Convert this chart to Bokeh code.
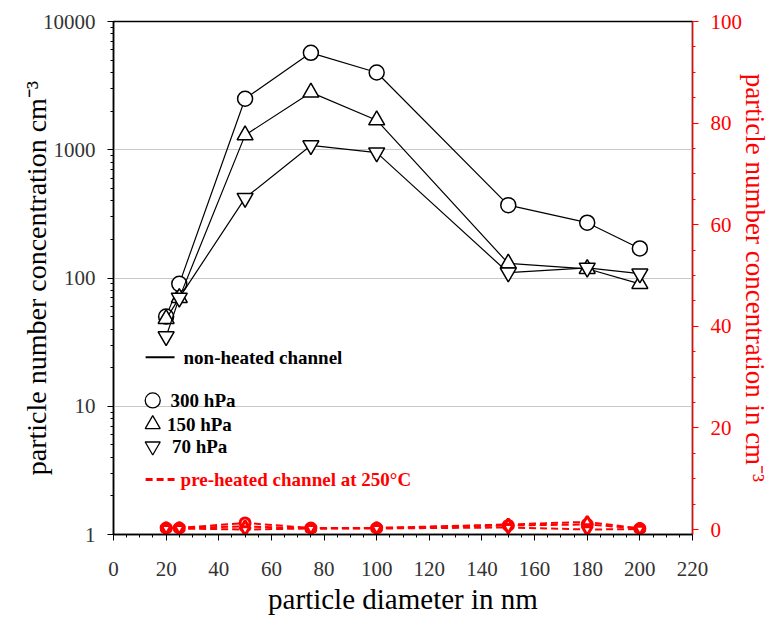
from bokeh.plotting import figure
from bokeh.models import (Range1d, LinearAxis, LinearScale, FixedTicker, SingleIntervalTicker,
                          NumeralTickFormatter, Label)
from bokeh.embed import file_html
from bokeh.resources import INLINE

# ---------------- data ----------------
diameter = [20, 25, 50, 75, 100, 150, 180, 200]

# non-heated channel (left, log axis)
nh_300 = [50, 90, 2500, 5700, 4000, 370, 270, 170]
nh_150 = [48, 70, 1300, 2800, 1700, 130, 118, 90]
nh_70 = [35, 70, 420, 1080, 950, 110, 120, 108]

# pre-heated channel at 250°C (right, linear axis)
ph_300 = [0.3, 0.3, 1.3, 0.3, 0.3, 0.8, 1.0, 0.2]
ph_150 = [0.3, 0.3, 0.6, 0.2, 0.3, 1.0, 1.5, 0.2]
ph_70 = [0.2, 0.2, 0.0, 0.2, 0.2, 0.4, 0.0, 0.1]

log_ticks = [1, 10, 100, 1000, 10000]

FONT = "Liberation Serif"
RED = "#ff0000"

p = figure(width=774, height=621, y_axis_type="log",
           x_range=Range1d(0, 220), y_range=Range1d(1, 10000),
           output_backend="svg", toolbar_location=None,
           min_border_left=113, min_border_right=82,
           min_border_top=21, min_border_bottom=87)
p.outline_line_color = "black"
p.outline_line_width = 1.5
p.background_fill_color = "white"
p.border_fill_color = "white"
p.xgrid.visible = False
p.ygrid.ticker = FixedTicker(ticks=[10, 100, 1000])
p.ygrid.grid_line_color = "#c8c8c8"
p.ygrid.grid_line_width = 1

p.extra_y_ranges = {"right": Range1d(-0.98, 100)}
p.extra_y_scales = {"right": LinearScale()}

# x axis
xa = p.xaxis[0]
xa.ticker = SingleIntervalTicker(interval=20, num_minor_ticks=4)
xa.axis_label = "particle diameter in nm"

# left y axis
ya = p.yaxis[0]
minor = [m * d for d in [1, 10, 100, 1000] for m in range(2, 10)]
ya.ticker = FixedTicker(ticks=log_ticks, minor_ticks=minor)
ya.formatter = NumeralTickFormatter(format="0")
ya.axis_label = "particle number concentration cm⁻³"

for ax in (xa, ya):
    ax.axis_line_color = "black"
    ax.axis_line_width = 1.5
    ax.major_tick_line_color = "black"
    ax.minor_tick_line_color = "black"
    ax.major_tick_in = 0
    ax.major_tick_out = 6
    ax.minor_tick_in = 0
    ax.minor_tick_out = 3
    ax.major_label_text_font = FONT
    ax.major_label_text_font_size = "21px"
    ax.major_label_text_color = "#333333"
    ax.axis_label_text_font = FONT
    ax.axis_label_text_font_style = "normal"
    ax.axis_label_text_color = "black"
xa.axis_label_text_font_size = "29px"
ya.axis_label_text_font_size = "28px"
xa.major_label_standoff = 21
ya.major_label_standoff = 12
xa.axis_label_standoff = 4
ya.axis_label_standoff = -12

# right axis
ra = LinearAxis(y_range_name="right",
                ticker=SingleIntervalTicker(interval=20, num_minor_ticks=4),
                axis_label="particle number concentration in cm⁻³")
ra.axis_line_color = RED
ra.axis_line_width = 1.2
ra.major_tick_line_color = RED
ra.minor_tick_line_color = RED
ra.major_tick_in = 0
ra.major_tick_out = 6
ra.minor_tick_in = 0
ra.minor_tick_out = 3
ra.major_label_text_font = FONT
ra.major_label_text_font_size = "21px"
ra.major_label_text_color = RED
ra.major_label_standoff = 12
ra.axis_label_text_font = FONT
ra.axis_label_text_font_size = "27px"
ra.axis_label_text_font_style = "normal"
ra.axis_label_text_color = RED
ra.axis_label_standoff = -5
p.add_layout(ra, "right")

# non-heated series
series = [(nh_300, "circle", 15), (nh_150, "triangle", 16), (nh_70, "inverted_triangle", 16)]
for vals, mk, sz in series:
    p.line(diameter, vals, line_color="black", line_width=1.2)
    p.scatter(diameter, vals, marker=mk, size=sz, fill_color="white",
              line_color="black", line_width=1.5)

# pre-heated series (right axis)
red_series = [(ph_300, "circle"), (ph_150, "triangle"), (ph_70, "inverted_triangle")]
for vals, mk in red_series:
    p.line(diameter, vals, line_color=RED, line_width=2, line_dash="7 4",
           y_range_name="right")
    p.scatter(diameter, vals, marker=mk, size=10, fill_color="white",
              line_color=RED, line_width=3, y_range_name="right")

# ---------------- in-plot legend ----------------
LEG_TXT = "19px"
p.line([12.2, 23.2], [24.1, 24.1], line_color="black", line_width=2)
p.add_layout(Label(x=26.6, y=24.1, text="non-heated channel", text_font=FONT,
                   text_font_size=LEG_TXT, text_font_style="bold",
                   text_baseline="middle", text_color="black"))
leg_rows = [("circle", 11.1, "300 hPa", 21.7),
            ("triangle", 7.23, "150 hPa", 20.3),
            ("inverted_triangle", 4.87, "70 hPa", 22.2)]
for mk, yy, txt, tx in leg_rows:
    p.scatter([14.9], [yy], marker=mk, size=15, fill_color="white",
              line_color="black", line_width=1.3)
    p.add_layout(Label(x=tx, y=yy, text=txt, text_font=FONT,
                       text_font_size=LEG_TXT, text_font_style="bold",
                       text_baseline="middle", text_color="black"))
p.line([12.2, 23.2], [2.69, 2.69], line_color=RED, line_width=3, line_dash="7 4")
p.add_layout(Label(x=25.5, y=2.69, text="pre-heated channel at 250°C", text_font=FONT,
                   text_font_size=LEG_TXT, text_font_style="bold",
                   text_baseline="middle", text_color=RED))

open("out.html", "w").write(file_html(p, INLINE))
